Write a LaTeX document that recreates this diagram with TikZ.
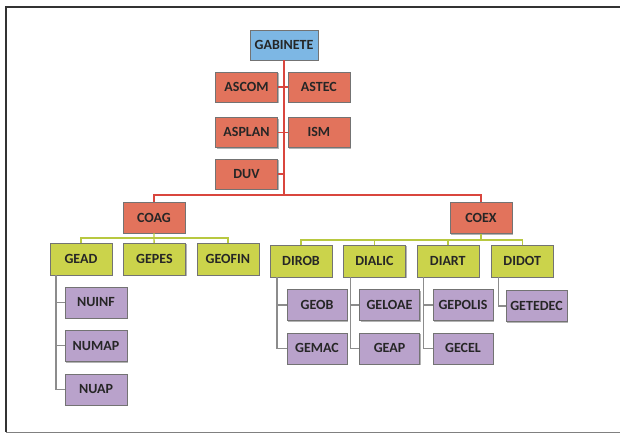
\documentclass[tikz,border=0pt]{standalone}
\usepackage{fontspec}
\setmainfont{Carlito}
\usetikzlibrary{positioning, shadows}
\definecolor{gabblue}{HTML}{7DB7E4}
\definecolor{unitred}{HTML}{E2735C}
\definecolor{subgreen}{HTML}{CBD34B}
\definecolor{nucpurple}{HTML}{B9A2CB}
\definecolor{linered}{HTML}{D9463E}
\definecolor{linegreen}{HTML}{B8C840}
\tikzset{
  box/.style={
    draw=black!55,
    rectangle,
    minimum width=62pt,
    minimum height=31pt,
    inner sep=2pt,
    align=center,
    text=black!85,
    font=\fontsize{14}{16}\selectfont\bfseries,
    drop shadow={shadow xshift=1.2pt, shadow yshift=-1.2pt, opacity=0.6}
  },
  topbox/.style={box, fill=gabblue, minimum width=68pt, minimum height=30pt},
  redbox/.style={box, fill=unitred, minimum height=30pt},
  greenbox/.style={box, fill=subgreen, minimum height=32pt},
  purplebox/.style={box, fill=nucpurple, minimum width=60pt, minimum height=31pt},
  redline/.style={draw=linered, line width=1.4pt},
  greenline/.style={draw=linegreen, line width=1.4pt},
  grayline/.style={draw=black!45, line width=1.1pt}
}

\begin{document}
\begin{tikzpicture}[x=1pt, y=-1pt]
        \useasboundingbox (0,0) rectangle (620,434);
        \draw[black!80, line width=1.6pt] (620,7) -- (6,7) -- (6,432);
        \draw[black!50, line width=1pt] (6,432) -- (620,432);

        \node[topbox] (gab) at (284,45) {GABINETE};
        \node[redbox] (ascom) at (246.5,87) {ASCOM};
        \node[redbox, right=10pt of ascom] (astec) {ASTEC};
        \node[redbox, below=15pt of ascom] (asplan) {ASPLAN};
        \node[redbox, right=10pt of asplan] (ism) {ISM};
        \node[redbox, below=11pt of asplan] (duv) {DUV};
        \coordinate (bus) at (284,195);

        \node[redbox, minimum height=31pt] (coag) at (154,217.5) {COAG};
        \node[redbox, minimum height=31pt] (coex) at (481,218) {COEX};

        % assessorias
        \draw[redline] (gab) -- (bus);
        \draw[redline] (ascom) -- (astec);
        \draw[redline] (asplan) -- (ism);
        \draw[redline] (duv.east) -- (duv.east -| gab.south);
        \draw[redline] (coag.north) |- (bus) -| (coex.north);

        % COAG
        \node[greenbox] (gead) at (81,259) {GEAD};
        \node[greenbox, right=11pt of gead] (gepes) {GEPES};
        \node[greenbox, right=11pt of gepes] (geofin) {GEOFIN};
        \coordinate (coagbus) at (154,238);
        \draw[greenline] (coag) -- (coagbus) -- (gepes);
        \draw[greenline] (gead.north) |- (coagbus) -| (geofin.north);

        \node[purplebox, minimum width=62pt] (nuinf) at (96,302.5) {NUINF};
        \node[purplebox, minimum width=62pt, below=12pt of nuinf] (numap) {NUMAP};
        \node[purplebox, minimum width=62pt, below=12pt of numap] (nuap) {NUAP};
        \foreach \n in {nuinf, numap, nuap}
          \draw[grayline] ([xshift=-25pt]gead.south) |- (\n.west);

        % COEX
        \node[greenbox] (dirob) at (301,261) {DIROB};
        \node[greenbox, right=11pt of dirob] (dialic) {DIALIC};
        \node[greenbox, right=11pt of dialic] (diart) {DIART};
        \node[greenbox, right=12pt of diart] (didot) {DIDOT};
        \coordinate (coexbus) at (481,240);
        \draw[greenline] (coex) -- (coexbus);
        \draw[greenline] (dirob.north) |- (coexbus) -| (didot.north);
        \draw[greenline] (dialic.north) -- (dialic.north |- coexbus);
        \draw[greenline] (diart.north) -- (diart.north |- coexbus);

        \node[purplebox] (geob) at (317,305) {GEOB};
        \node[purplebox, below=12pt of geob] (gemac) {GEMAC};
        \node[purplebox] (geloae) at (389.5,305) {GELOAE};
        \node[purplebox, below=12pt of geloae] (geap) {GEAP};
        \node[purplebox] (gepolis) at (463,305) {GEPOLIS};
        \node[purplebox, below=12pt of gepolis] (gecel) {GECEL};
        \node[purplebox, minimum width=61pt] (getedec) at (536.5,306) {GETEDEC};
        \draw[grayline] ([xshift=-24pt]dirob.south) |- (geob.west);
        \draw[grayline] ([xshift=-24pt]dirob.south) |- (gemac.west);
        \draw[grayline] ([xshift=-24pt]dialic.south) |- (geloae.west);
        \draw[grayline] ([xshift=-24pt]dialic.south) |- (geap.west);
        \draw[grayline] ([xshift=-24pt]diart.south) |- (gepolis.west);
        \draw[grayline] ([xshift=-24pt]diart.south) |- (gecel.west);
        \draw[grayline] ([xshift=-24pt]didot.south) |- (getedec.west);
      \end{tikzpicture}
\end{document}
